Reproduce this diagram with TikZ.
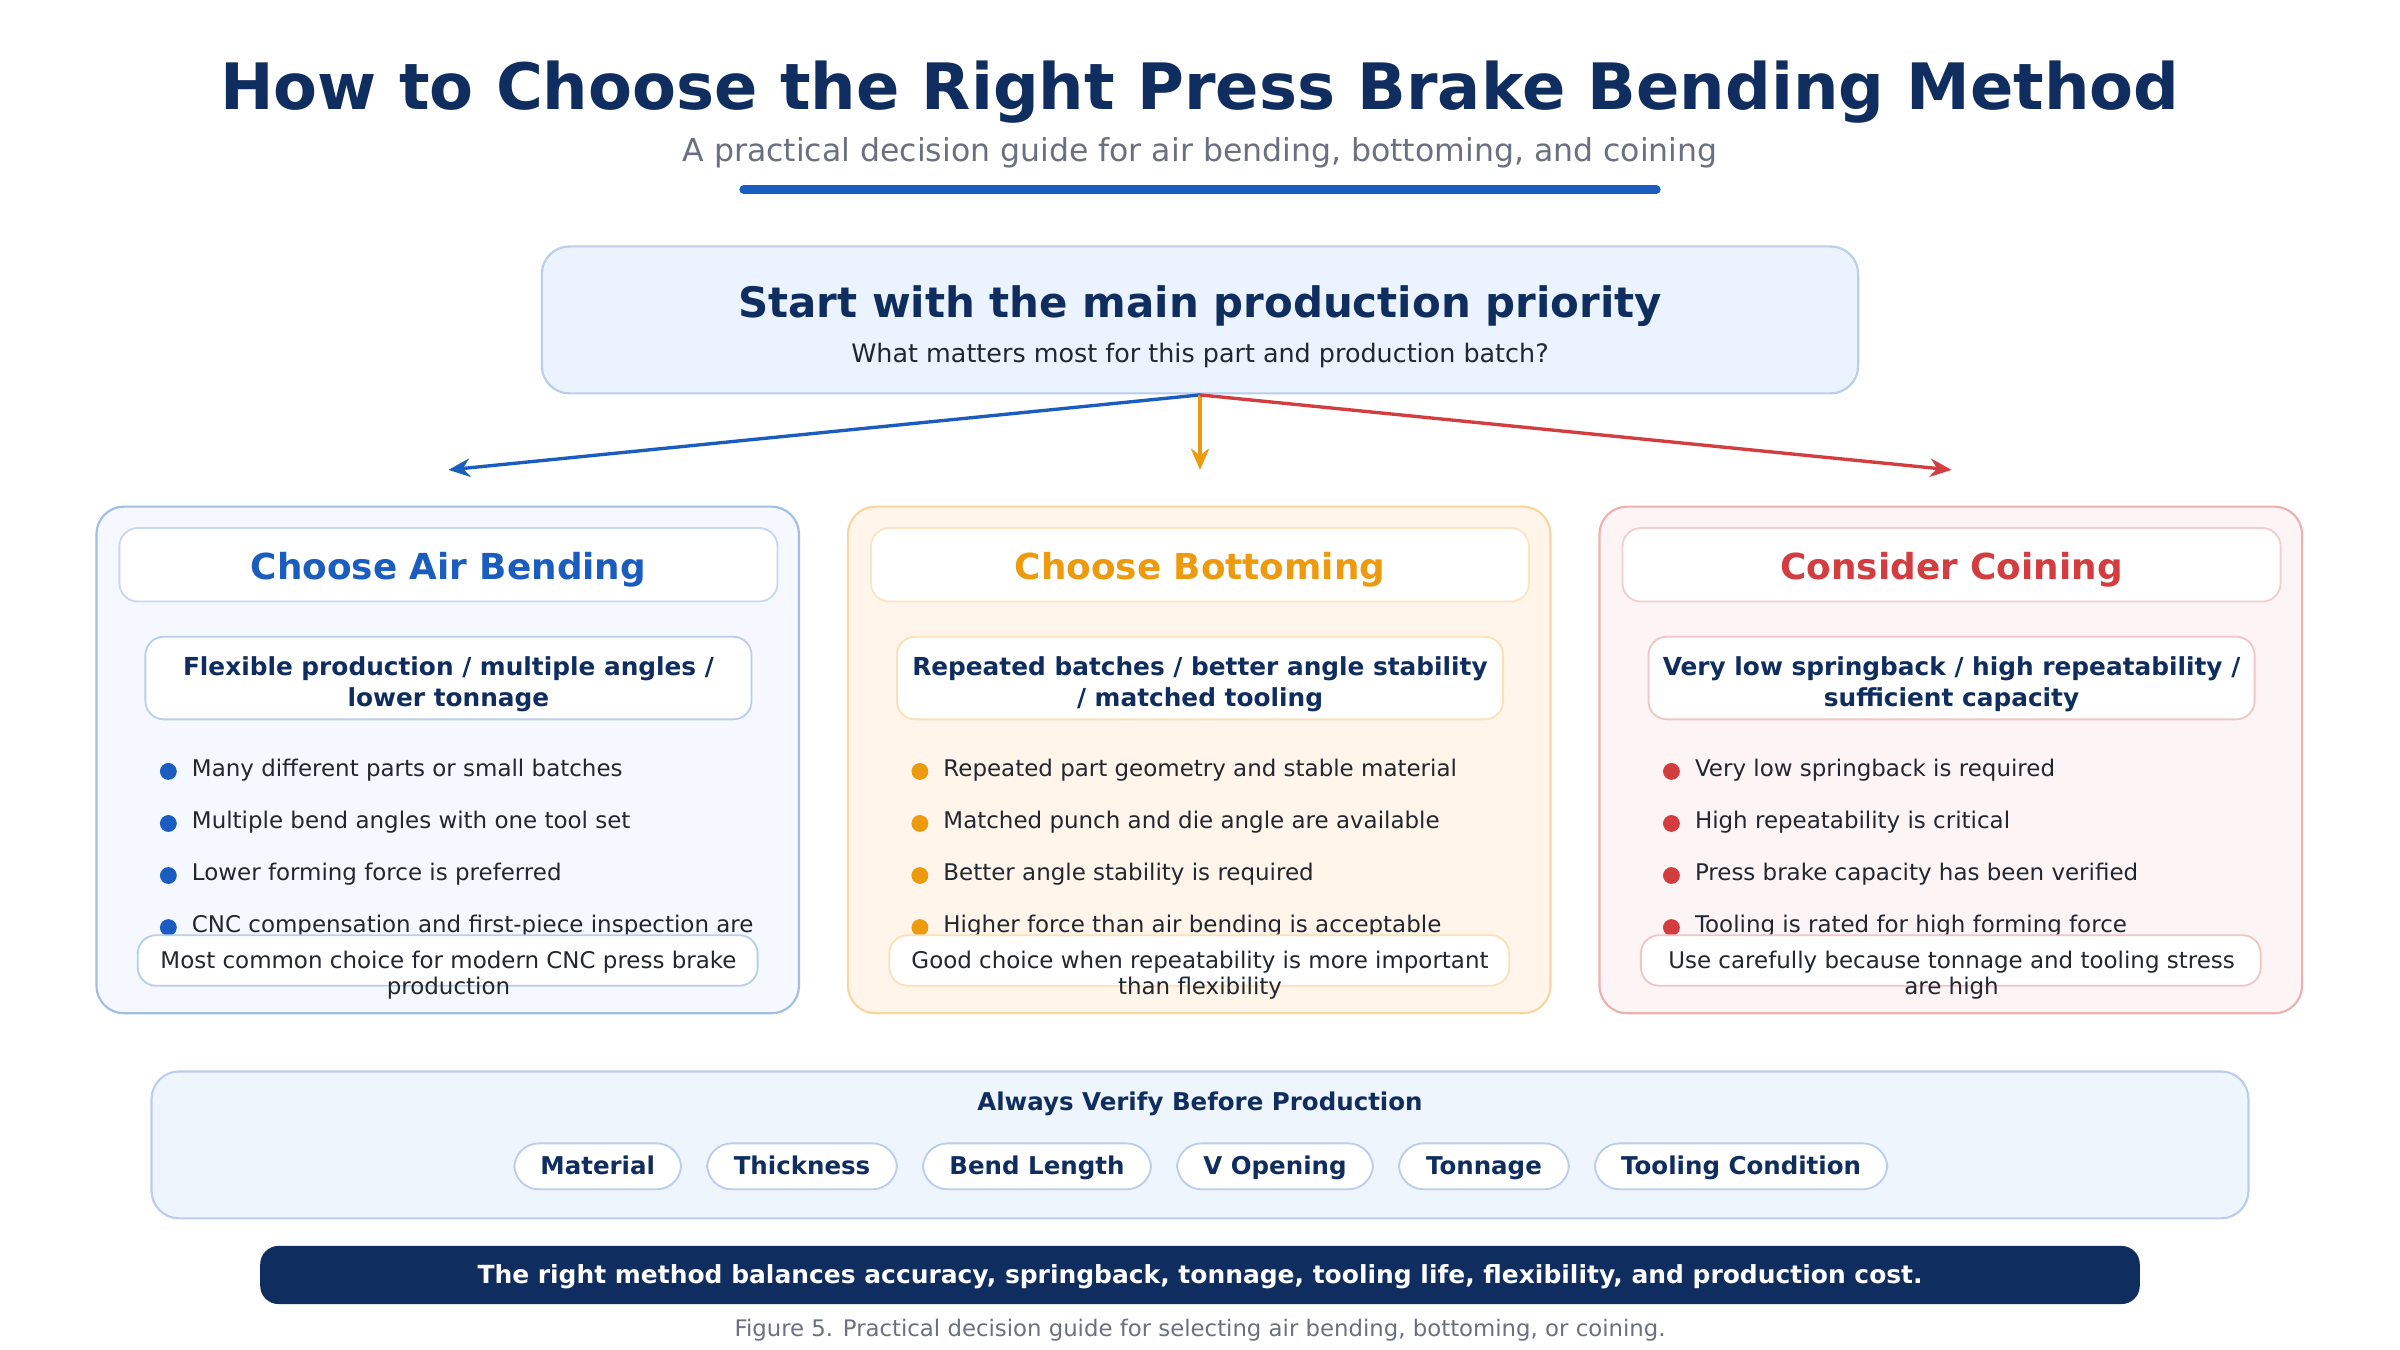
\documentclass[tikz,border=0pt]{standalone}
\usepackage{fontspec}
\setmainfont{DejaVu Sans}
\usetikzlibrary{positioning}
\usetikzlibrary{arrows.meta}
\definecolor{navy}{HTML}{0F2D5E}
\definecolor{blueA}{HTML}{1A5DBF}
\definecolor{orangeA}{HTML}{EE9A0E}
\definecolor{redA}{HTML}{D43D3F}
\definecolor{greyT}{HTML}{6B7080}
\definecolor{inkT}{HTML}{22262E}
\definecolor{startBg}{HTML}{EAF3FE}
\definecolor{verifyBg}{HTML}{EEF5FD}
\newcommand{\slashSep}{/}
\tikzset{
    panel/.style={rounded corners=9pt, line width=0.7pt},
    chip/.style={draw=#1, fill=white, rounded corners=6pt, line width=0.6pt},
    bullet/.style={anchor=west, font=\fontsize{7.5}{9}\selectfont, text=inkT, inner sep=0pt},
    tag/.style={font=\fontsize{8}{10}\selectfont\bfseries, text=navy, text height=6pt, text depth=1.6pt},
    dot/.pic={\fill[#1] (0,0) circle (5.5);}
}
\begin{document}
\begin{tikzpicture}[x=0.5pt, y=-0.5pt]
	\useasboundingbox (0,0) rectangle (1568,882);
	% header
	\node (title) at (784,60) {\fontsize{20.9}{24}\selectfont\bfseries\color{navy}How to Choose the Right Press Brake Bending Method};
	\node (subtitle) at (784,100) {\fontsize{10.3}{12}\selectfont\color{greyT}A practical decision guide for air bending, bottoming, and coining};
	\draw[blueA, line width=3pt, line cap=round] (486,124) -- (1082,124);
	% start box
	\draw[panel, draw=blueA!30, fill=startBg] (354,161) rectangle (1214,257);
	\node (start) at (784,200) {\fontsize{13.7}{16}\selectfont\bfseries\color{navy}Start with the main production priority};
	\node (startsub) at (784,232) {\fontsize{8.3}{10}\selectfont\color{inkT}What matters most for this part and production batch?};
	\coordinate (root) at (784,258);
	\coordinate (airTip) at (293,307);
	\coordinate (botTip) at (784,307);
	\coordinate (coinTip) at (1275,307);
	\draw[blueA, line width=1.1pt, -{Stealth[length=7pt, width=6pt]}] (root) -- (airTip);
	\draw[orangeA, line width=1.1pt, -{Stealth[length=7pt, width=6pt]}] (root) -- (botTip);
	\draw[redA, line width=1.1pt, -{Stealth[length=7pt, width=6pt]}] (root) -- (coinTip);
	% cards
	\foreach \x/\c/\bg/\head/\subA/\subB/\bA/\bB/\bC/\bD/\nA/\nB in {
		63/blueA/F5F9FF/Choose Air Bending/Flexible production {\slashSep} multiple angles {\slashSep}/lower tonnage/Many different parts or small batches/Multiple bend angles with one tool set/Lower forming force is preferred/CNC compensation and first-piece inspection are/Most common choice for modern CNC press brake/production,
		554/orangeA/FFF5EA/Choose Bottoming/Repeated batches {\slashSep} better angle stability/{\slashSep} matched tooling/Repeated part geometry and stable material/Matched punch and die angle are available/Better angle stability is required/Higher force than air bending is acceptable/Good choice when repeatability is more important/than flexibility,
		1045/redA/FDF4F5/Consider Coining/Very low springback {\slashSep} high repeatability {\slashSep}/sufficient capacity/Very low springback is required/High repeatability is critical/Press brake capacity has been verified/Tooling is rated for high forming force/Use carefully because tonnage and tooling stress/are high}{
		\definecolor{cardbg}{HTML}{\bg}
		\draw[panel, draw=\c!40, fill=cardbg] (\x,331) rectangle ++(459,331);
		\draw[chip=\c!25] (\x+15,345) rectangle ++(430,48);
		\node at (\x+230,372) {\fontsize{11.7}{14}\selectfont\bfseries\color{\c}\head};
		\draw[chip=\c!30] (\x+32,416) rectangle ++(396,54);
		\node[align=center, font=\fontsize{8.1}{10}\selectfont\bfseries, text=navy] at (\x+230,447) {\subA\\\subB};
		\foreach \y/\t in {503/\bA, 537/\bB, 571/\bC, 605/\bD}{
			\pic at (\x+47,\y+1) {dot=\c};
			\node[bullet] at (\x+62,\y) {\t};
		}
		\draw[chip=\c!30] (\x+27,611) rectangle ++(405,33);
		\node[align=center, font=\fontsize{7.5}{8.6}\selectfont, text=inkT] at (\x+230,637) {\nA\\\nB};
	}
	% verify box
	\draw[panel, draw=blueA!30, fill=verifyBg] (99,700) rectangle (1469,796);
	\node[tag] (verify) at (784,721) {Always Verify Before Production};
	\foreach \a/\b/\t in {336/445/Material, 462/586/Thickness, 603/752/Bend Length, 769/897/V Opening, 914/1025/Tonnage, 1042/1233/Tooling Condition}{
		\draw[chip=blueA!30, rounded corners=8pt] (\a,747) rectangle (\b,777);
		\node[tag] at ({(\a+\b)/2},763) {\t};
	}
	% footer
	\fill[navy, rounded corners=6pt] (170,814) rectangle (1398,852);
	\node[tag, text=white, font=\fontsize{8.15}{10}\selectfont\bfseries] (summary) at (784,834) {The right method balances accuracy, springback, tonnage, tooling life, flexibility, and production cost.};
	\node (caption) at (784,869) {\fontsize{7.45}{9}\selectfont\color{greyT}Figure 5. Practical decision guide for selecting air bending, bottoming, or coining.};
\end{tikzpicture}
\end{document}
